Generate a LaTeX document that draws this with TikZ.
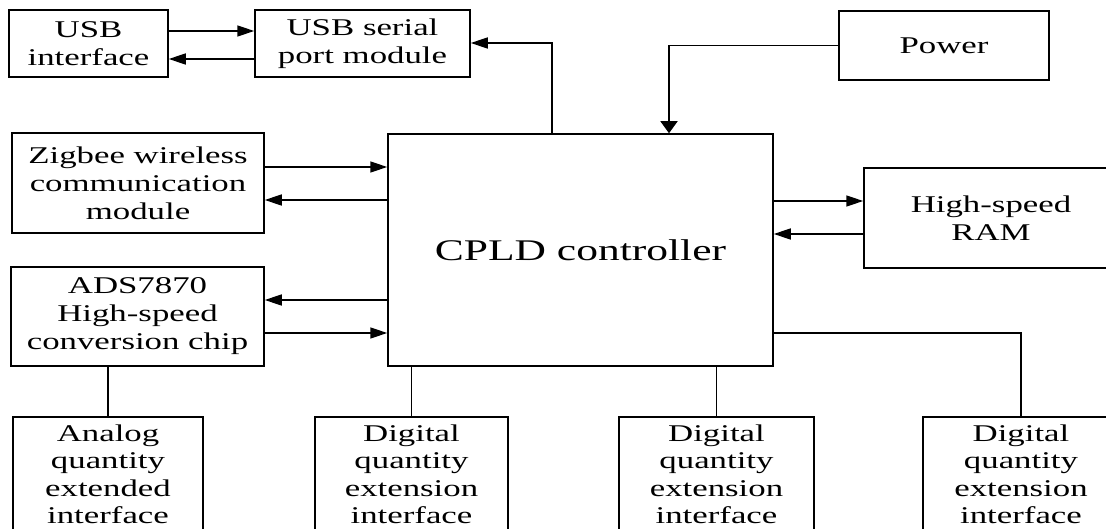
\documentclass[tikz,border=0pt]{standalone}
\usepackage{fontspec}
\setmainfont{Liberation Serif}[FakeStretch=1.45]
\usetikzlibrary{arrows.meta}
\begin{document}
\begin{tikzpicture}[x=1pt,y=-1pt,line width=1.5pt,
  box/.style={draw,line width=1.5pt,align=center,inner sep=0pt,
    font=\fontsize{24}{28}\selectfont},
  bigbox/.style={box,font=\fontsize{30}{36}\selectfont},
  lowbox/.style={box,anchor=north,inner ysep=8pt,font=\fontsize{24}{27.5}\selectfont},
  harrow/.style={-{Triangle[length=17pt,width=11pt]}},
  varrow/.style={-{Triangle[length=12pt,width=17pt]}}]
\useasboundingbox (0,0) rectangle (1106,529);
\clip (0,0) rectangle (1106,529);
\fill[white] (0,0) rectangle (1106,529);
% nodes
\node[box,minimum width=159pt,minimum height=67pt] (usbi) at (88.5,43.5) {USB\\interface};
\node[box,minimum width=215pt,minimum height=67pt] (usbs) at (362.5,43.5) {USB serial\\port module};
\node[box,minimum width=210pt,minimum height=69pt] (power) at (944,45.5) {Power};
\node[box,minimum width=252pt,minimum height=100pt] (zig) at (138,183) {Zigbee wireless\\communication\\module};
\node[box,minimum width=253pt,minimum height=99pt] (ads) at (137.5,316.5) {ADS7870\\High-speed\\conversion chip};
\node[bigbox,minimum width=385pt,minimum height=232pt] (cpld) at (580.5,250) {CPLD controller};
\node[box,minimum width=254pt,minimum height=100pt] (ram) at (991,218) {High-speed\\RAM};
\node[lowbox,minimum width=190pt] (analog) at (108,416) {Analog\\quantity\\extended\\interface};
\node[lowbox,minimum width=193pt] (dig1) at (411.5,416) {Digital\\quantity\\extension\\interface};
\node[lowbox,minimum width=195pt] (dig2) at (716.5,416) {Digital\\quantity\\extension\\interface};
\node[lowbox,minimum width=196pt] (dig3) at (1021,416) {Digital\\quantity\\extension\\interface};
% helper coordinates
\coordinate (u1) at ([yshift=12.5pt]usbi.east);
\coordinate (u2) at ([yshift=-15.5pt]usbi.east);
\coordinate (z1) at ([yshift=16pt]zig.east);
\coordinate (z2) at ([yshift=-17pt]zig.east);
\coordinate (a1) at ([yshift=16.5pt]ads.east);
\coordinate (a2) at ([yshift=-16.5pt]ads.east);
\coordinate (r1) at ([yshift=17pt]ram.west);
\coordinate (r2) at ([yshift=-16pt]ram.west);
\coordinate (d3) at ([yshift=-83pt]cpld.east);
% connectors
\draw[harrow] (u1) -- (u1 -| usbs.west);
\draw[harrow] (u2 -| usbs.west) -- (u2);
\draw[harrow] ([xshift=-28.5pt]cpld.north) |- ([yshift=0.5pt]usbs.east);
\draw[varrow] (power.west) -| ([xshift=88.5pt]cpld.north);
\draw[harrow] (z1) -- (z1 -| cpld.west);
\draw[harrow] (z2 -| cpld.west) -- (z2);
\draw[harrow] (a1 -| cpld.west) -- (a1);
\draw[harrow] (a2) -- (a2 -| cpld.west);
\draw[harrow] (r1 -| cpld.east) -- (r1);
\draw[harrow] (r2) -- (r2 -| cpld.east);
\draw (analog.north |- ads.south) -- (analog.north);
\draw (dig1.north |- cpld.south) -- (dig1.north);
\draw (dig2.north |- cpld.south) -- (dig2.north);
\draw (d3) -| (dig3.north);
\end{tikzpicture}
\end{document}
